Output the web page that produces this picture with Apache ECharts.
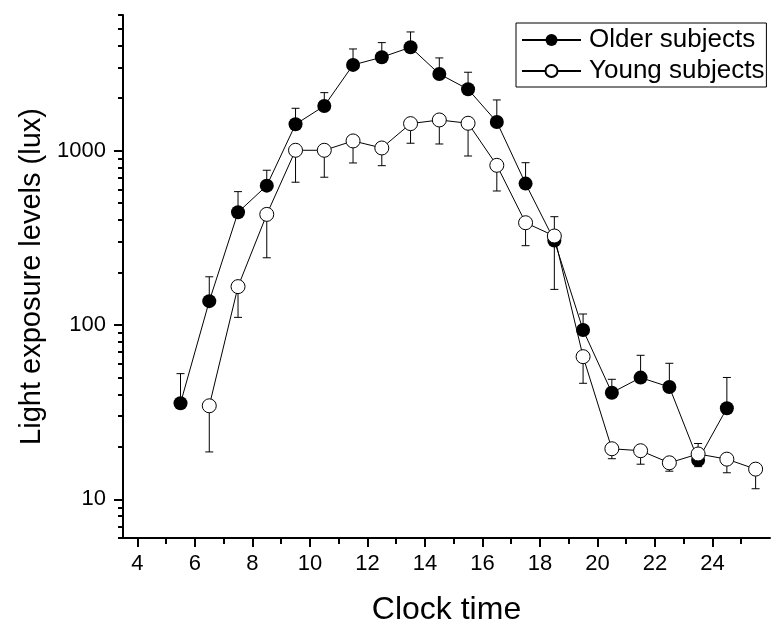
<!DOCTYPE html>
<html>
<head>
<meta charset="utf-8">
<script src="https://cdn.jsdelivr.net/npm/echarts@6/dist/echarts.min.js"></script>
<style>
  html, body { margin: 0; padding: 0; background: #fff; }
  #chart { width: 784px; height: 637px; }
</style>
</head>
<body>
<div id="chart"></div>
<script>
// older subjects: clock time, mean lux, top of error bar
const olderTime = [5.5, 6.5, 7.5, 8.5, 9.5, 10.5, 11.5, 12.5, 13.5, 14.5, 15.5, 16.5, 17.5, 18.5, 19.5, 20.5, 21.5, 22.5, 23.5, 24.5];
const olderLux = [35.6, 137, 443, 630, 1416, 1805, 3103, 3435, 3919, 2754, 2250, 1461, 647, 305, 93.6, 40.9, 49.9, 44.1, 16.8, 33.3];
const olderErrTop = [52.6, 189, 582, 772, 1750, 2152, 3831, 4166, 4797, 3403, 2817, 1954, 853, 418, 115.6, 48.8, 67, 60.3, 20.9, 50];

// young subjects: clock time, mean lux, bottom of error bar
const youngTime = [6.5, 7.5, 8.5, 9.5, 10.5, 11.5, 12.5, 13.5, 14.5, 15.5, 16.5, 17.5, 18.5, 19.5, 20.5, 21.5, 22.5, 23.5, 24.5, 25.5];
const youngLux = [34.4, 166, 431, 1005, 1005, 1137, 1036, 1429, 1500, 1436, 824, 386, 324, 65.8, 19.5, 19.0, 16.2, 18.2, 17.0, 14.9];
const youngErrLow = [18.7, 110.6, 243, 659, 704, 850, 820, 1103, 1092, 932, 587, 285, 160, 46.3, 17.1, 15.9, 14.5, 15.4, 14.2, 11.5];

// tick labels / tick marks
const xMajorTicks = [4, 6, 8, 10, 12, 14, 16, 18, 20, 22, 24];
const xMinorTicks = [5, 7, 9, 11, 13, 15, 17, 19, 21, 23, 25];
const yMajorTicks = [10, 100, 1000];
const yMinorTicks = [6, 7, 8, 9, 20, 30, 40, 50, 60, 70, 80, 90, 200, 300, 400, 500, 600, 700, 800, 900, 2000, 3000, 4000, 5000, 6000];

const FONT = 'Liberation Sans, Arial, sans-serif';
const chart = echarts.init(document.getElementById('chart'));

// vertical error bar with a cap at the far end
function errorBar(params, api) {
  const x = api.value(0);
  const p = api.coord([x, api.value(1)]);
  const q = api.coord([x, api.value(2)]);
  const style = { stroke: '#000', lineWidth: 1 };
  return {
    type: 'group',
    children: [
      { type: 'line', shape: { x1: p[0], y1: p[1], x2: q[0], y2: q[1] }, style },
      { type: 'line', shape: { x1: q[0] - 4, y1: q[1], x2: q[0] + 4, y2: q[1] }, style }
    ]
  };
}

const xBase = { type: 'value', min: 3.5, max: 26, position: 'bottom', splitLine: { show: false } };
const yBase = { type: 'log', logBase: 10, min: 6, max: 6000, position: 'left', splitLine: { show: false } };

chart.setOption({
  animation: false,
  grid: { left: 123, right: 14, top: 15, bottom: 99, containLabel: false, outerBoundsMode: 'none' },
  legend: {
    orient: 'vertical', left: 516, top: 23,
    padding: [3, 2, 2, 5], itemGap: 3, itemWidth: 59, itemHeight: 15,
    borderColor: '#000', borderWidth: 1, borderRadius: 0,
    textStyle: { fontSize: 26, color: '#000', fontFamily: FONT, lineHeight: 28, padding: [0, 0, 0, 3] },
    data: ['Older subjects', 'Young subjects']
  },
  xAxis: [
    Object.assign({}, xBase, {
      axisLine: { lineStyle: { color: '#000', width: 2 } },
      axisTick: { customValues: xMajorTicks, length: 9, lineStyle: { color: '#000', width: 2 } },
      axisLabel: { customValues: xMajorTicks, fontSize: 22, color: '#000', fontFamily: FONT, margin: 15 },
      name: 'Clock time', nameLocation: 'middle', nameGap: 56,
      nameTextStyle: { fontSize: 32, color: '#000', fontFamily: FONT }
    }),
    Object.assign({}, xBase, {
      axisLine: { show: false },
      axisTick: { customValues: xMinorTicks, length: 6, lineStyle: { color: '#000', width: 2 } },
      axisLabel: { show: false }
    })
  ],
  yAxis: [
    Object.assign({}, yBase, {
      axisLine: { show: true, lineStyle: { color: '#000', width: 2 } },
      axisTick: { show: true, customValues: yMajorTicks, length: 9, lineStyle: { color: '#000', width: 2 } },
      axisLabel: {
        customValues: yMajorTicks, fontSize: 22, color: '#000', fontFamily: FONT, margin: 17,
        formatter: v => String(Math.round(v))
      },
      name: 'Light exposure levels (lux)', nameLocation: 'middle', nameGap: 74,
      nameTextStyle: { fontSize: 29, color: '#000', fontFamily: FONT }
    }),
    Object.assign({}, yBase, {
      axisLine: { show: false },
      axisTick: { show: true, customValues: yMinorTicks, length: 5, lineStyle: { color: '#000', width: 2 } },
      axisLabel: { show: false }
    })
  ],
  series: [
    {
      type: 'custom', renderItem: errorBar, z: 1, silent: true,
      encode: { x: 0, y: [1, 2] },
      data: olderTime.map((t, i) => [t, olderLux[i], olderErrTop[i]])
    },
    {
      type: 'custom', renderItem: errorBar, z: 1, silent: true,
      encode: { x: 0, y: [1, 2] },
      data: youngTime.map((t, i) => [t, youngLux[i], youngErrLow[i]])
    },
    {
      name: 'Older subjects', type: 'line', z: 3,
      data: olderTime.map((t, i) => [t, olderLux[i]]),
      symbol: 'circle', symbolSize: 14, showAllSymbol: true,
      itemStyle: { color: '#000' },
      lineStyle: { color: '#000', width: 1 },
      emphasis: { disabled: true }
    },
    {
      name: 'Young subjects', type: 'line', z: 3,
      data: youngTime.map((t, i) => [t, youngLux[i]]),
      symbol: 'circle', symbolSize: 14, showAllSymbol: true,
      itemStyle: { color: '#fff', borderColor: '#000', borderWidth: 1 },
      lineStyle: { color: '#000', width: 1 },
      emphasis: { disabled: true }
    }
  ]
});
</script>
</body>
</html>
